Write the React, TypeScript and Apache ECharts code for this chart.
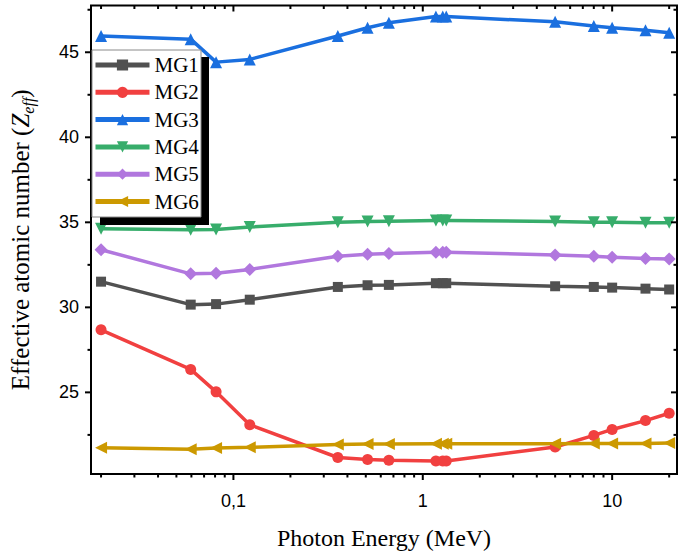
import React, { useEffect, useRef } from 'react';
import * as echarts from 'echarts';

// Photon energies (MeV)
const energies = [0.02, 0.0595, 0.081, 0.122, 0.356, 0.511, 0.662, 1.173, 1.275, 1.33, 5, 8, 10, 15, 20];
// Effective atomic number for each glass
const mg1 = [31.51, 30.16, 30.19, 30.45, 31.2, 31.3, 31.32, 31.42, 31.42, 31.42, 31.24, 31.2, 31.16, 31.1, 31.05];
const mg2 = [28.68, 26.35, 25.03, 23.1, 21.17, 21.05, 21.01, 20.97, 20.97, 20.97, 21.79, 22.47, 22.82, 23.34, 23.77];
const mg3 = [45.96, 45.77, 44.42, 44.58, 45.96, 46.44, 46.73, 47.1, 47.1, 47.1, 46.79, 46.54, 46.44, 46.29, 46.15];
const mg4 = [34.62, 34.56, 34.58, 34.72, 35.0, 35.05, 35.07, 35.1, 35.1, 35.1, 35.05, 35.0, 35.0, 34.98, 34.98];
const mg5 = [33.39, 31.97, 32.0, 32.23, 33.0, 33.12, 33.16, 33.24, 33.24, 33.24, 33.08, 33.0, 32.95, 32.87, 32.85];
const mg6 = [21.75, 21.65, 21.73, 21.77, 21.94, 21.96, 21.96, 21.98, 21.98, 21.98, 21.98, 22.0, 22.0, 22.0, 22.02];

const seriesNames = ['MG1', 'MG2', 'MG3', 'MG4', 'MG5', 'MG6'];

// Tick positions
const xMajorTicks = [0.1, 1, 10];
const xMinorTicks = [0.02, 0.03, 0.04, 0.05, 0.06, 0.07, 0.08, 0.09, 0.2, 0.3, 0.4, 0.5, 0.6, 0.7, 0.8, 0.9, 2, 3, 4, 5, 6, 7, 8, 9, 20];
const yMajorTicks = [25, 30, 35, 40, 45];
const yMinorTicks = [22.5, 27.5, 32.5, 37.5, 42.5, 47.5];
const xTickLabels: Record<string, string> = { '0.1': '0,1', '1': '1', '10': '10' };

const colors = ['#515151', '#F14040', '#1A6FDF', '#37AD6B', '#B177DE', '#CC9900'];
const symbols = ['rect', 'circle', 'triangle', 'triangle', 'diamond', 'triangle'];
const symbolRotates = [0, 0, 0, 180, 0, 90];
const symbolSizes = [10, 11, 12, 12, 13, 12];

const SERIF = '"Liberation Serif", "Times New Roman", serif';
const SANS = '"Liberation Sans", Arial, sans-serif';

export default function App() {
  const ref = useRef<HTMLDivElement>(null);
  useEffect(() => {
    const chart = echarts.init(ref.current!, null, { renderer: 'svg' });
    const allData = [mg1, mg2, mg3, mg4, mg5, mg6];
    const lineSeries = allData.map((vals, i) => ({
      name: seriesNames[i],
      type: 'line',
      data: energies.map((e, j) => [e, vals[j]]),
      symbol: symbols[i],
      symbolSize: symbolSizes[i],
      symbolRotate: symbolRotates[i],
      itemStyle: { color: colors[i] },
      lineStyle: { color: colors[i], width: 3.5 },
      z: 2,
    }));
    const tickItems = [
      ...xMajorTicks.map((v) => [v, 30, 0]),
      ...xMinorTicks.map((v) => [v, 30, 1]),
      ...yMajorTicks.map((v) => [1, v, 2]),
      ...yMinorTicks.map((v) => [1, v, 3]),
    ];
    const tickSeries = {
      name: 'ticks',
      type: 'custom',
      silent: true,
      clip: false,
      z: 6,
      data: tickItems,
      renderItem: (params: any, api: any) => {
        const cs = params.coordSys;
        const kind = api.value(2);
        const style = { stroke: '#000', lineWidth: 2 };
        const pt = api.coord([api.value(0), api.value(1)]);
        if (kind < 2) {
          const x = pt[0];
          const len = kind === 0 ? 6 : 3.5;
          const bottom = cs.y + cs.height;
          return {
            type: 'group',
            children: [
              { type: 'line', shape: { x1: x, y1: bottom, x2: x, y2: bottom + len }, style },
              { type: 'line', shape: { x1: x, y1: cs.y, x2: x, y2: cs.y + len }, style },
            ],
          };
        }
        const y = pt[1];
        const len = kind === 2 ? 6 : 3.5;
        const right = cs.x + cs.width;
        return {
          type: 'group',
          children: [
            { type: 'line', shape: { x1: cs.x - len, y1: y, x2: cs.x, y2: y }, style },
            { type: 'line', shape: { x1: right - len, y1: y, x2: right, y2: y }, style },
          ],
        };
      },
    };
    chart.setOption({
      animation: false,
      backgroundColor: '#fff',
      grid: {
        left: 91,
        right: 8,
        top: 5.5,
        bottom: 82,
        show: true,
        borderColor: '#000',
        borderWidth: 2,
        backgroundColor: 'transparent',
        outerBoundsMode: 'none',
      },
      xAxis: {
        type: 'log',
        logBase: 10,
        min: 0.0177,
        max: 22,
        name: 'Photon Energy (MeV)',
        nameLocation: 'middle',
        nameGap: 52,
        nameTextStyle: { fontFamily: SERIF, fontSize: 24, color: '#000' },
        axisLine: { show: false },
        axisTick: { show: false },
        splitLine: { show: false },
        axisLabel: {
          showMinLabel: false,
          showMaxLabel: false,
          margin: 18,
          fontFamily: SANS,
          fontSize: 18,
          color: '#000',
          formatter: (v: number) => {
            const key = String(parseFloat(v.toPrecision(6)));
            return xTickLabels[key] ?? '';
          },
        },
      },
      yAxis: {
        type: 'value',
        min: 20.2,
        max: 47.75,
        name: '{n|Effective atomic number (}{z|Z}{s|eff}{n|)}',
        nameLocation: 'middle',
        nameGap: 55,
        nameTextStyle: {
          color: '#000',
          rich: {
            n: { fontFamily: SERIF, fontSize: 25, color: '#000', lineHeight: 32 },
            z: { fontFamily: SERIF, fontSize: 25, fontStyle: 'italic', color: '#000', lineHeight: 32 },
            s: { fontFamily: SERIF, fontSize: 16, fontStyle: 'italic', color: '#000', verticalAlign: 'bottom', lineHeight: 16 },
          },
        },
        axisLine: { show: false },
        axisTick: { show: false },
        splitLine: { show: false },
        axisLabel: {
          showMinLabel: false,
          showMaxLabel: false,
          margin: 12,
          fontFamily: SANS,
          fontSize: 18,
          color: '#000',
        },
      },
      legend: {
        data: seriesNames,
        orient: 'vertical',
        left: 93,
        top: 54.5,
        padding: 0,
        itemWidth: 54,
        itemHeight: 14,
        itemGap: 6.3,
        z: 10,
        lineStyle: { width: 5 },
        textStyle: { fontFamily: SERIF, fontSize: 21, color: '#000' },
      },
      graphic: [
        { type: 'rect', z: 8, silent: true, shape: { x: 100, y: 57, width: 109, height: 168 }, style: { fill: '#000' } },
        { type: 'rect', z: 9, silent: true, shape: { x: 92, y: 50, width: 109, height: 167 }, style: { fill: '#fff', stroke: '#8a8a8a', lineWidth: 1 } },
      ],
      series: [...lineSeries, tickSeries],
    });
    return () => chart.dispose();
  }, []);
  return <div ref={ref} style={{ position: 'fixed', left: 0, top: 0, width: 685, height: 556 }} />;
}
